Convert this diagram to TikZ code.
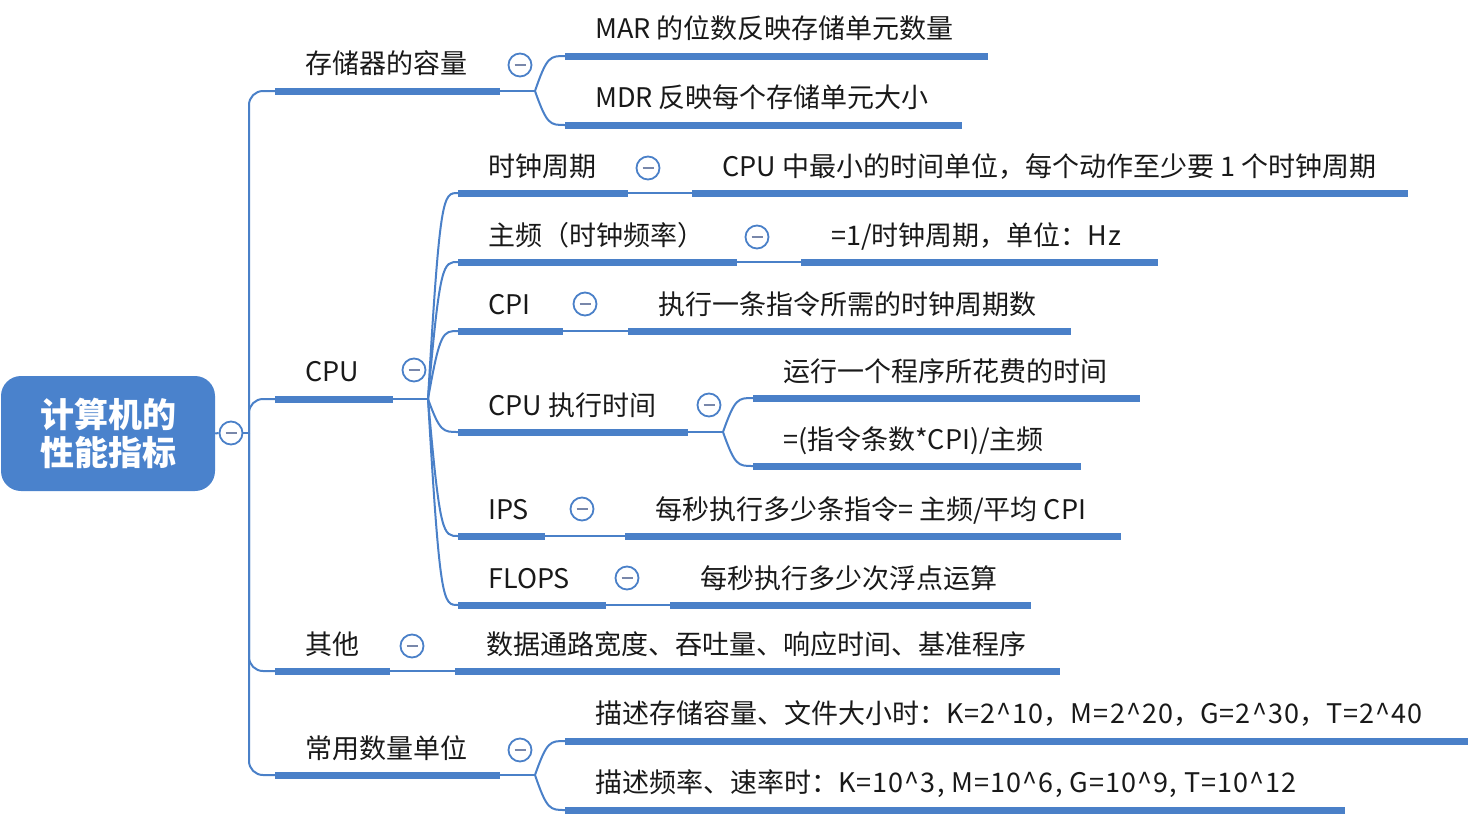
\documentclass[tikz,border=0pt]{standalone}
\usepackage{fontspec}
\setmainfont{Noto Sans CJK SC}
\newfontfamily\latwide[LetterSpace=4]{Noto Sans CJK SC}
\usetikzlibrary{calc}
\definecolor{mblue}{RGB}{74,128,200}
\definecolor{rootblue}{RGB}{74,130,204}
\definecolor{minusc}{RGB}{120,135,170}
\definecolor{txtc}{RGB}{25,25,25}
\tikzset{
  under/.style={draw=mblue, line width=7pt},
  thinline/.style={draw=mblue, line width=2pt},
  txt/.style={anchor=west, inner sep=0pt, yshift=-5pt, text=txtc, font=\fontsize{27}{31}\selectfont, text height=0.88em, text depth=0.12em},
  coll/.style={circle, draw=mblue, line width=1.8pt, fill=white, minimum size=23pt, inner sep=0pt,
    path picture={\draw[minusc, line width=2.2pt] ([xshift=-5.5pt]path picture bounding box.center) -- ([xshift=5.5pt]path picture bounding box.center);}},
  rootbox/.style={rounded corners=20pt, fill=rootblue, text=white, align=center, inner sep=0pt,
    minimum width=214pt, minimum height=115pt, font=\fontsize{34}{38}\selectfont\bfseries}
}
\newcommand{\fanline}[2]{\draw[thinline] (#1) .. controls ($(#1 |- #2)+(12,0)$) and ($(#1 |- #2)+(15,0)$) .. (#2);}
\newcommand{\lw}[1]{{\latwide #1}}
\begin{document}
\begin{tikzpicture}[x=1pt,y=-1pt]
\useasboundingbox (0,0) rectangle (1468,817);
% root
\node[rootbox] (root) at (108,433.5) {计算机的\\性能指标};
\node[coll] (rc) at (231,433) {};
\coordinate (sp) at (249,433);
\draw[thinline] (root.east) -- (rc.west);
\draw[thinline] (rc.east) -- (sp);
% level 1 coordinates
\coordinate (a1s) at (275,91);  \coordinate (a1e) at (500,91); \coordinate (a1b) at (535,91);
\coordinate (a2s) at (275,399); \coordinate (a2e) at (393,399); \coordinate (a2b) at (428,399);
\coordinate (a3s) at (275,671); \coordinate (a3e) at (390,671);
\coordinate (a4s) at (275,775); \coordinate (a4e) at (500,775); \coordinate (a4b) at (535,775);
% spine
\draw[thinline, rounded corners=14pt] (sp) |- (a1s);
\draw[thinline, rounded corners=14pt] (sp) |- (a2s);
\draw[thinline, rounded corners=14pt] (sp) |- (a3s);
\draw[thinline, rounded corners=14pt] (sp) |- (a4s);
% level 1 topics
\node[txt] (a1) at (305,65) {存储器的容量};
\node[txt] (a2) at (305,373) {CPU};
\node[txt] (a3) at (305,646) {其他};
\node[txt] (a4) at (305,750) {常用数量单位};
\draw[under] (a1s) -- (a1e); \draw[thinline] (a1e) -- (a1b);
\draw[under] (a2s) -- (a2e); \draw[thinline] (a2e) -- (a2b);
\draw[under] (a3s) -- (a3e);
\draw[under] (a4s) -- (a4e); \draw[thinline] (a4e) -- (a4b);
\node[coll] (ca1) at (520,65) {};
\node[coll] (ca2) at (414,370) {};
\node[coll] (ca3) at (412,646) {};
\node[coll] (ca4) at (520,750) {};
% children of a1
\coordinate (b1s) at (565,56);  \coordinate (b1e) at (988,56);
\coordinate (b2s) at (565,125); \coordinate (b2e) at (962,125);
\node[txt] (b1) at (595,30) {MAR 的位数反映存储单元数量};
\node[txt] (b2) at (595,99) {MDR 反映每个存储单元大小};
\fanline{a1b}{b1s} \fanline{a1b}{b2s}
\draw[under] (b1s) -- (b1e);
\draw[under] (b2s) -- (b2e);
% children of a2
\coordinate (c1s) at (458,193); \coordinate (c1e) at (628,193);
\coordinate (c2s) at (458,262); \coordinate (c2e) at (737,262);
\coordinate (c3s) at (458,331); \coordinate (c3e) at (563,331);
\coordinate (c4s) at (458,432); \coordinate (c4e) at (688,432); \coordinate (c4b) at (723,432);
\coordinate (c5s) at (458,536); \coordinate (c5e) at (545,536);
\coordinate (c6s) at (458,605); \coordinate (c6e) at (606,605);
\fanline{a2b}{c1s} \fanline{a2b}{c2s} \fanline{a2b}{c3s}
\fanline{a2b}{c4s} \fanline{a2b}{c5s} \fanline{a2b}{c6s}
\node[txt] (c1) at (488,168) {时钟周期};
\node[txt] (c2) at (488,237) {主频（时钟频率）};
\node[txt] (c3) at (488,306) {CPI};
\node[txt] (c4) at (488,407) {CPU 执行时间};
\node[txt] (c5) at (488,511) {IPS};
\node[txt] (c6) at (488,580) {FLOPS};
\draw[under] (c1s) -- (c1e);
\draw[under] (c2s) -- (c2e);
\draw[under] (c3s) -- (c3e);
\draw[under] (c4s) -- (c4e);
\draw[under] (c5s) -- (c5e);
\draw[under] (c6s) -- (c6e);
% grandchildren
\coordinate (d1s) at (692,193); \coordinate (d1e) at (1408,193);
\coordinate (d2s) at (801,262); \coordinate (d2e) at (1158,262);
\coordinate (d3s) at (628,331); \coordinate (d3e) at (1071,331);
\coordinate (d4as) at (753,398); \coordinate (d4ae) at (1140,398);
\coordinate (d4bs) at (753,466); \coordinate (d4be) at (1081,466);
\coordinate (d5s) at (625,536); \coordinate (d5e) at (1121,536);
\coordinate (d6s) at (670,605); \coordinate (d6e) at (1031,605);
\draw[thinline] (c1e) -- (d1s);
\draw[thinline] (c2e) -- (d2s);
\draw[thinline] (c3e) -- (d3s);
\draw[thinline] (c4e) -- (c4b);
\fanline{c4b}{d4as} \fanline{c4b}{d4bs}
\draw[thinline] (c5e) -- (d5s);
\draw[thinline] (c6e) -- (d6s);
\draw[under] (d1s) -- (d1e);
\draw[under] (d2s) -- (d2e);
\draw[under] (d3s) -- (d3e);
\draw[under] (d4as) -- (d4ae);
\draw[under] (d4bs) -- (d4be);
\draw[under] (d5s) -- (d5e);
\draw[under] (d6s) -- (d6e);
\node[txt] (d1) at (722,168) {CPU 中最小的时间单位，每个动作至少要 1 个时钟周期};
\node[txt] (d2) at (831,237) {=1/时钟周期，单位：\lw{Hz}};
\node[txt] (d3) at (658,306) {执行一条指令所需的时钟周期数};
\node[txt] (d4a) at (783,373) {运行一个程序所花费的时间};
\node[txt] (d4b) at (783,441) {=(指令条数*CPI)/主频};
\node[txt] (d5) at (655,511) {每秒执行多少条指令= 主频/平均 CPI};
\node[txt] (d6) at (700,580) {每秒执行多少次浮点运算};
\node[coll] (cc1) at (648,168) {};
\node[coll] (cc2) at (757,237) {};
\node[coll] (cc3) at (585,304) {};
\node[coll] (cc4) at (709,405) {};
\node[coll] (cc5) at (582,509) {};
\node[coll] (cc6) at (627,578) {};
% child of a3
\coordinate (es) at (455,671); \coordinate (ee) at (1060,671);
\draw[thinline] (a3e) -- (es);
\draw[under] (es) -- (ee);
\node[txt] (e) at (486,646) {数据通路宽度、吞吐量、响应时间、基准程序};
% children of a4
\coordinate (f1s) at (565,741); \coordinate (f1e) at (1468,741);
\coordinate (f2s) at (565,810); \coordinate (f2e) at (1345,810);
\fanline{a4b}{f1s} \fanline{a4b}{f2s}
\draw[under] (f1s) -- (f1e);
\draw[under] (f2s) -- (f2e);
\node[txt] (f1) at (595,715) {描述存储容量、文件大小时：\lw{K=2\textasciicircum10}，\lw{M=2\textasciicircum20}，\lw{G=2\textasciicircum30}，\lw{T=2\textasciicircum40}};
\node[txt] (f2) at (595,784) {描述频率、速率时：\lw{K=10\textasciicircum3, M=10\textasciicircum6, G=10\textasciicircum9, T=10\textasciicircum12}};
\end{tikzpicture}
\end{document}
